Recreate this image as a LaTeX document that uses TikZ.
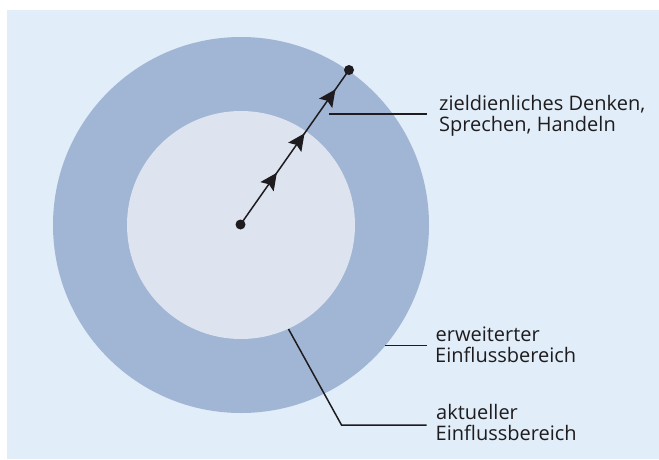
\documentclass[tikz,border=0pt]{standalone}
\usepackage{fontspec}
\setmainfont{Open Sans}
\usetikzlibrary{arrows.meta,decorations.markings}
\definecolor{bgblue}{RGB}{225,237,248}
\definecolor{ringblue}{RGB}{161,181,212}
\definecolor{innerblue}{RGB}{221,228,240}
\definecolor{inkblack}{RGB}{30,28,30}
\tikzset{
  dotnode/.style={circle,fill=inkblack,inner sep=0pt,minimum size=10pt},
  lbl/.style={anchor=base west,inner sep=0pt,font=\fontsize{20}{21}\selectfont,text=inkblack},
  leader/.style={draw=inkblack,line width=1.5pt},
  pathline/.style={draw=inkblack,line width=1.5pt,
    postaction={decorate,decoration={markings,
      mark=at position 0.335 with {\arrow{Stealth[length=17pt,width=16pt,inset=3pt]}},
      mark=at position 0.59 with {\arrow{Stealth[length=17pt,width=16pt,inset=3pt]}},
      mark=at position 0.875 with {\arrow{Stealth[length=17pt,width=16pt,inset=3pt]}}}}}
}
\begin{document}
\begin{tikzpicture}[x=1pt,y=-1pt]
\useasboundingbox (0,0) rectangle (659,459);
\fill[white] (0,0) rectangle (659,459);
\fill[bgblue] (6.5,9.5) rectangle (659,459);
\fill[ringblue] (241,225) circle (188);
\fill[innerblue] (241,225) circle (114);
\node[dotnode] (start) at (240.5,224.5) {};
\node[dotnode] (goal) at (349,70) {};
\path[pathline] (start.center) -- (goal.center);
\node[lbl] (t1a) at (439,110) {zieldienliches Denken,};
\node[lbl] (t1b) at (439,131) {Sprechen, Handeln};
\node[lbl] (t2a) at (435.5,341.7) {erweiterter};
\node[lbl] (t2b) at (435,362.7) {Einflussbereich};
\node[lbl] (t3a) at (436,419) {aktueller};
\node[lbl] (t3b) at (435.5,440) {Einflussbereich};
\coordinate (a1) at (329,114);
\coordinate (a2) at (385,345.5);
\coordinate (a3) at (288.5,329);
\coordinate (k3) at (341.5,425);
\draw[leader] (a1) -- ([xshift=-12.5pt]t1a.base west |- a1);
\draw[leader] (a2) -- ([xshift=-9pt]t2a.base west |- a2);
\draw[leader] (a3) -- (k3) -- ([xshift=-9.5pt]t3a.base west |- k3);
\end{tikzpicture}
\end{document}
